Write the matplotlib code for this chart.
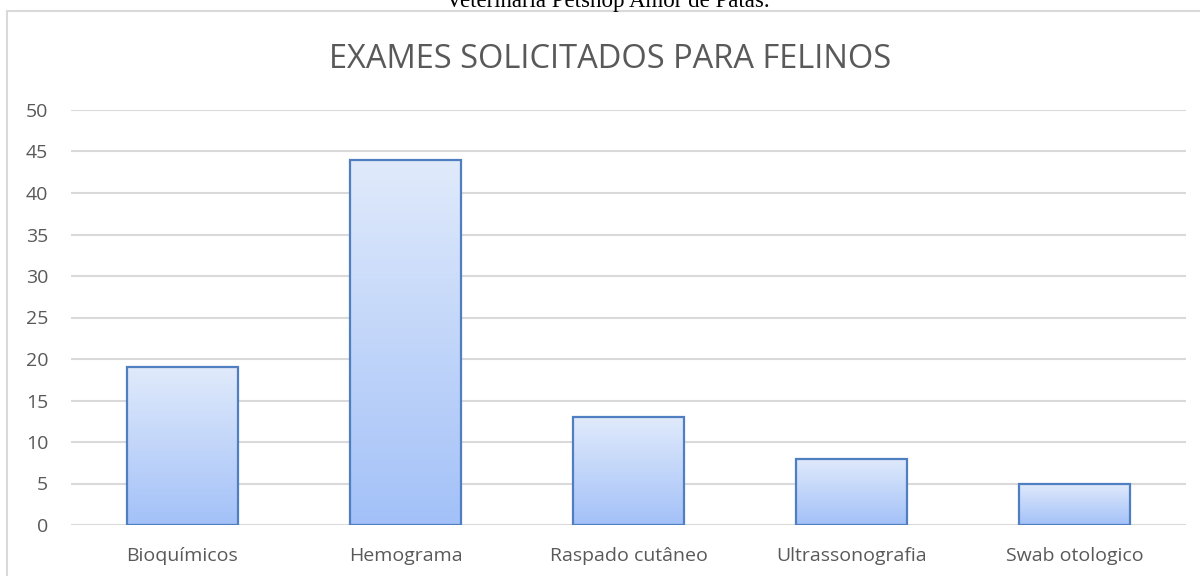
import numpy as np
import matplotlib
matplotlib.use("Agg")
import matplotlib.pyplot as plt
from matplotlib.patches import Rectangle

# dados do gráfico
categorias = ["Bioquímicos", "Hemograma", "Raspado cutâneo", "Ultrassonografia", "Swab otologico"]
valores = [19, 44, 13, 8, 5]
ticks_y = [0, 5, 10, 15, 20, 25, 30, 35, 40, 45, 50]

cinza = "#595959"
grade = "#d9d9d9"
borda_barra = "#4f7fc0"

fig = plt.figure(figsize=(12, 5.76), dpi=100)
W, H = 1200, 576

# moldura do gráfico (corta na direita e embaixo)
fig.patches.append(Rectangle((6.5 / W, -0.1), 1.2, 1.1 - 11.5 / H,
                             transform=fig.transFigure, fill=False,
                             edgecolor=grade, linewidth=1.5))

# legenda do documento, cortada no topo
fig.text(608 / W, 1 - 7 / H, "Veterinaria Petshop Amor de Patas.",
         ha="center", va="baseline", fontsize=16.5,
         family="Liberation Serif", color="black")

fig.text(610 / W, 1 - 68 / H, "EXAMES SOLICITADOS PARA FELINOS",
         ha="center", va="baseline", fontsize=23.5, family="Open Sans",
         color=cinza)

ax = fig.add_axes([71 / W, 1 - 525 / H, (1186 - 71) / W, (525 - 110) / H])

x = np.arange(len(categorias))
barras = ax.bar(x, valores, width=0.5, color="none", edgecolor=borda_barra,
                linewidth=1.6, zorder=3)

# degradê vertical dentro de cada barra
grad = np.linspace(0, 1, 256).reshape(-1, 1)
topo = np.array([0xe0, 0xea, 0xfb]) / 255
base = np.array([0xa3, 0xc1, 0xf8]) / 255
img = topo + (base - topo) * grad[..., None]
img = img.reshape(256, 1, 3)
for b in barras:
    x0, y0 = b.get_x(), b.get_y()
    w, h = b.get_width(), b.get_height()
    im = ax.imshow(img, extent=[x0, x0 + w, y0, y0 + h], aspect="auto",
                   origin="upper", zorder=2)
    im.set_clip_path(b)

ax.set_xlim(-0.5, len(categorias) - 0.5)
ax.set_ylim(0, 50)
ax.set_yticks(ticks_y)
ax.set_xticks(x)
ax.set_xticklabels(categorias)
ax.yaxis.grid(True, color=grade, linewidth=1.5, zorder=0)
ax.set_axisbelow(True)
for s in ax.spines.values():
    s.set_visible(False)
ax.tick_params(axis="both", length=0, labelsize=14, labelcolor=cinza)
ax.tick_params(axis="y", pad=16.5)
ax.tick_params(axis="x", pad=16)
for lbl in ax.get_xticklabels() + ax.get_yticklabels():
    lbl.set_family("Open Sans")

fig.savefig("out.png", dpi=100)
